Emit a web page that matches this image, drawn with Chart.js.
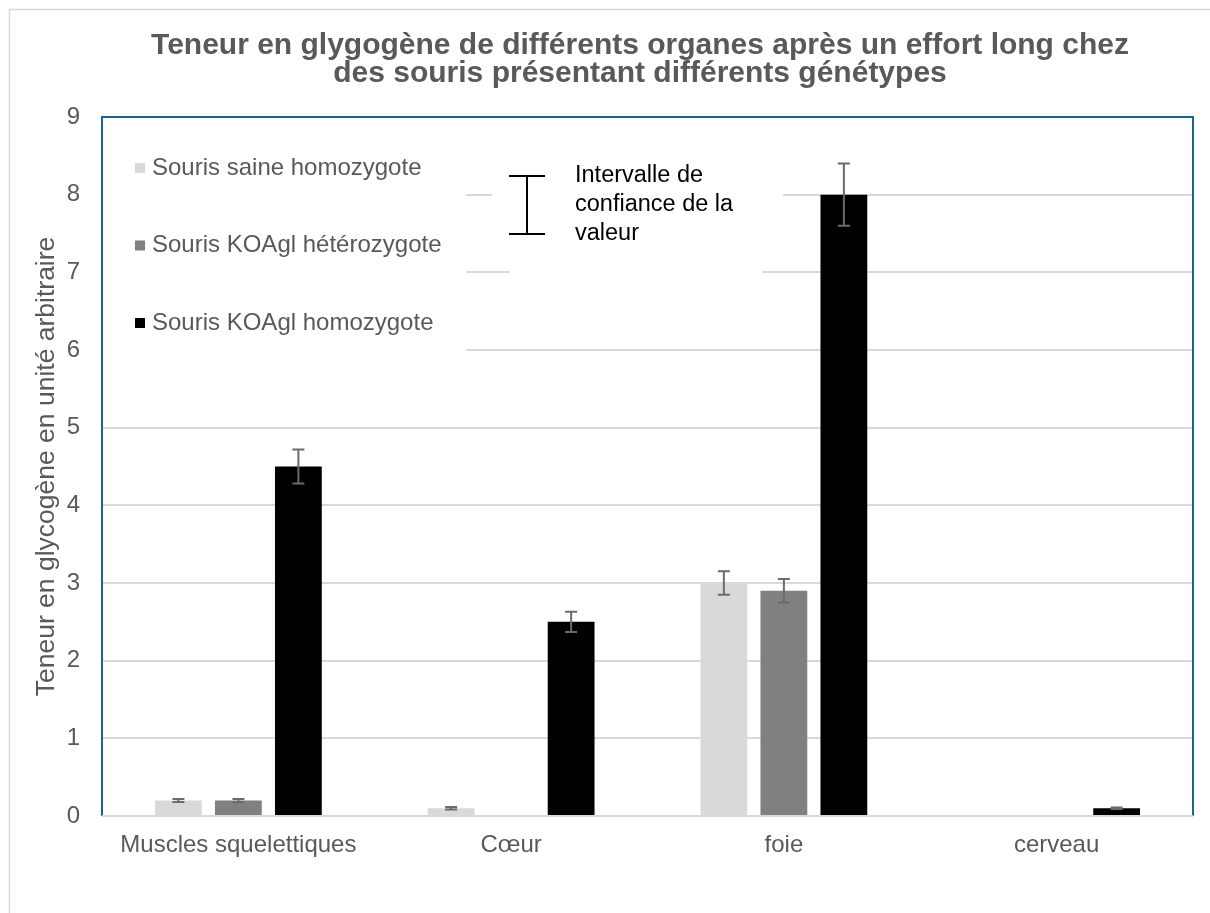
<!DOCTYPE html>
<html lang="fr">
<head>
<meta charset="utf-8">
<script src="https://cdn.jsdelivr.net/npm/chart.js"></script>
<style>
  html, body { margin: 0; padding: 0; background: #fff; overflow: hidden; }
  #wrap { width: 1280px; height: 913px; }
</style>
</head>
<body>
<div id="wrap"><canvas id="myChart" width="1280" height="913"></canvas></div>
<script>
    const labels = ["Muscles squelettiques", "Cœur", "foie", "cerveau"];
    const seriesNames = ["Souris saine homozygote", "Souris KOAgl hétérozygote", "Souris KOAgl homozygote"];
    const saine = [0.2, 0.1, 3.0, 0];
    const hetero = [0.2, 0, 2.9, 0];
    const homo = [4.5, 2.5, 8.0, 0.1];
    const errSaine = [0.02, 0.015, 0.15, 0];
    const errHetero = [0.02, 0, 0.15, 0];
    const errHomo = [0.22, 0.13, 0.4, 0.01];
    const yTicks = [0, 1, 2, 3, 4, 5, 6, 7, 8, 9];
    const colors = ["#d9d9d9", "#808080", "#000000"];
    const titleLines = ["Teneur en glygogène de différents organes après un effort long chez",
                        "des souris présentant différents génétypes"];
    const noteLines = ["Intervalle de", "confiance de la", "valeur"];

    const FONT = "'Liberation Sans', Arial, sans-serif";
    const TEXT_GREY = '#595959';

    // white boxes behind legend + note, blue frame, error bars, title
    const decor = {
        id: 'decor',
        beforeDatasetsDraw(chart) {
            const ctx = chart.ctx, a = chart.chartArea;
            ctx.save();
            ctx.fillStyle = '#fff';
            ctx.fillRect(a.left + 1, a.top + 1, 363, 283);
            ctx.fillRect(a.left + 390, a.top + 33, 291, 112);
            ctx.fillRect(a.left + 408, a.top + 140, 252, 22);
            ctx.restore();
        },
        afterDatasetsDraw(chart) {
            const ctx = chart.ctx, a = chart.chartArea;
            const y = chart.scales.y;
            const errs = [errSaine, errHetero, errHomo];
            ctx.save();
            ctx.strokeStyle = '#6b6b6b';
            ctx.lineWidth = 2;
            chart.data.datasets.forEach(function (ds, i) {
                const meta = chart.getDatasetMeta(i);
                meta.data.forEach(function (bar, j) {
                    const e = errs[i][j];
                    if (!ds.data[j]) return;
                    const y1 = y.getPixelForValue(ds.data[j] + e);
                    const y2 = y.getPixelForValue(ds.data[j] - e);
                    ctx.beginPath();
                    ctx.moveTo(bar.x, y1); ctx.lineTo(bar.x, y2);
                    ctx.moveTo(bar.x - 6, y1); ctx.lineTo(bar.x + 6, y1);
                    ctx.moveTo(bar.x - 6, y2); ctx.lineTo(bar.x + 6, y2);
                    ctx.stroke();
                });
            });
            ctx.restore();

            // frame
            ctx.save();
            ctx.strokeStyle = '#1f6391';
            ctx.lineWidth = 2;
            ctx.beginPath();
            ctx.moveTo(a.left, a.bottom);
            ctx.lineTo(a.left, a.top);
            ctx.lineTo(a.right, a.top);
            ctx.lineTo(a.right, a.bottom);
            ctx.stroke();
            ctx.strokeStyle = '#d9d9d9';
            ctx.beginPath();
            ctx.moveTo(a.left, a.bottom);
            ctx.lineTo(a.right, a.bottom);
            ctx.stroke();
            ctx.restore();
        },
        afterDraw(chart) {
            const ctx = chart.ctx, a = chart.chartArea;
            ctx.save();
            // outer border
            ctx.strokeStyle = '#d9d9d9';
            ctx.lineWidth = 1.5;
            ctx.beginPath();
            ctx.moveTo(9.5, 913); ctx.lineTo(9.5, 9.5); ctx.lineTo(1280, 9.5);
            ctx.stroke();

            // title
            ctx.fillStyle = TEXT_GREY;
            ctx.font = 'bold 30px ' + FONT;
            ctx.textAlign = 'center';
            ctx.textBaseline = 'middle';
            titleLines.forEach(function (t, i) {
                ctx.fillText(t, 640, 46 + i * 28);
            });

            // legend
            ctx.textAlign = 'left';
            ctx.font = '24px ' + FONT;
            seriesNames.forEach(function (name, i) {
                const cy = a.top + 51 + i * 77.5;
                ctx.fillStyle = colors[i];
                ctx.fillRect(a.left + 33, cy - 5, 10, 10);
                ctx.fillStyle = TEXT_GREY;
                ctx.fillText(name, a.left + 50, cy);
            });

            // confidence interval note
            ctx.strokeStyle = '#000';
            ctx.lineWidth = 2;
            const bx = a.left + 425;
            ctx.beginPath();
            ctx.moveTo(bx, a.top + 59); ctx.lineTo(bx, a.top + 117);
            ctx.moveTo(bx - 18, a.top + 59); ctx.lineTo(bx + 18, a.top + 59);
            ctx.moveTo(bx - 18, a.top + 117); ctx.lineTo(bx + 18, a.top + 117);
            ctx.stroke();
            ctx.fillStyle = '#000';
            ctx.font = '23.5px ' + FONT;
            noteLines.forEach(function (t, i) {
                ctx.fillText(t, a.left + 473, a.top + 59 + i * 29);
            });
            ctx.restore();
        }
    };

    const data = {
        labels: labels,
        datasets: [
            { label: seriesNames[0], data: saine, backgroundColor: colors[0] },
            { label: seriesNames[1], data: hetero, backgroundColor: colors[1] },
            { label: seriesNames[2], data: homo, backgroundColor: colors[2] }
        ]
    };

    const config = {
        type: 'bar',
        data: data,
        options: {
            responsive: false,
            animation: false,
            layout: { padding: { left: 0, right: 87, top: 117, bottom: 0 } },
            datasets: { bar: { categoryPercentage: 0.66, barPercentage: 0.78, borderWidth: 0 } },
            plugins: {
                legend: { display: false },
                tooltip: { enabled: false },
                title: { display: false }
            },
            scales: {
                x: {
                    grid: { display: false, drawTicks: false },
                    border: { display: false },
                    ticks: { color: TEXT_GREY, font: { family: FONT, size: 24 }, padding: 15, maxRotation: 0 },
                    afterFit: function (s) { s.height = 97; }
                },
                y: {
                    min: 0,
                    max: 9,
                    afterBuildTicks: function (s) { s.ticks = yTicks.map(function (v) { return { value: v }; }); },
                    grid: { color: '#d9d9d9', lineWidth: 2, drawTicks: false },
                    border: { display: false },
                    ticks: { color: TEXT_GREY, font: { family: FONT, size: 24 }, padding: 22 },
                    title: {
                        display: true,
                        text: 'Teneur en glycogène en unité arbitraire',
                        color: TEXT_GREY,
                        font: { family: FONT, size: 26.5 },
                        padding: { top: 31, bottom: 0 }
                    },
                    afterFit: function (s) { s.width = 102; }
                }
            }
        },
        plugins: [decor]
    };

    var myChart = new Chart(document.getElementById('myChart'), config);
</script>
</body>
</html>
